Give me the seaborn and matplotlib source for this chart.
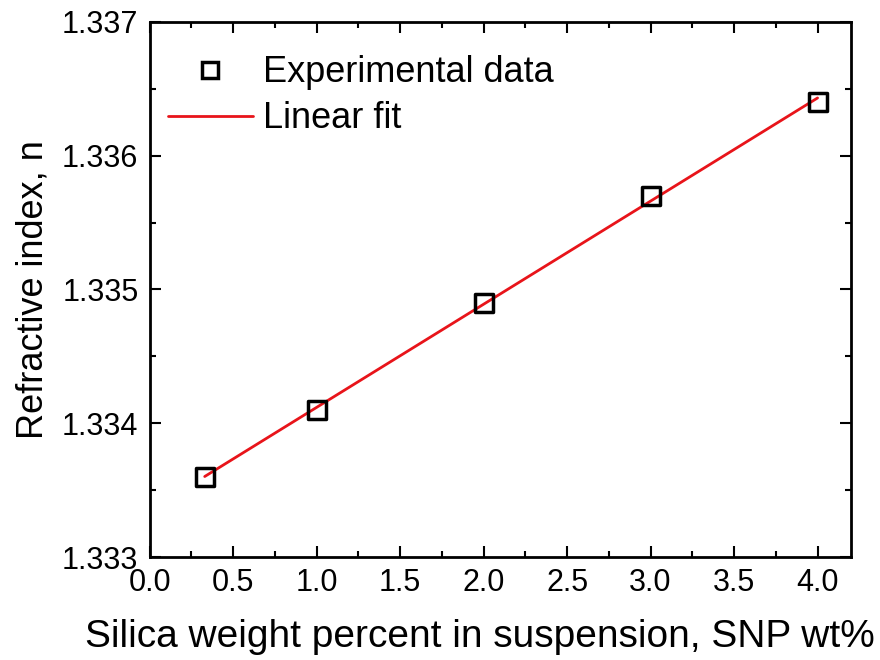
import matplotlib
matplotlib.use("Agg")
import matplotlib.pyplot as plt
import seaborn as sns
import pandas as pd
from matplotlib.ticker import MultipleLocator, FormatStrFormatter
from matplotlib.lines import Line2D

wt = [0.33, 1.0, 2.0, 3.0, 4.0]
n_vals = [1.3336, 1.3341, 1.3349, 1.3357, 1.3364]
df = pd.DataFrame({"wt": wt, "n": n_vals})

sns.set_style("ticks")
plt.rcParams["font.family"] = ["Liberation Sans", "DejaVu Sans"]
plt.rcParams["text.color"] = "black"
plt.rcParams["axes.labelcolor"] = "black"

fig = plt.figure(figsize=(8.8, 6.6), dpi=100)
ax = fig.add_axes([0.170, 0.156, 0.797, 0.811])

sns.regplot(data=df, x="wt", y="n", ax=ax, scatter=False, ci=None,
            line_kws=dict(color="#e8141a", lw=2))
sns.scatterplot(data=df, x="wt", y="n", ax=ax, marker="s", s=170,
                facecolor="none", edgecolor="black", linewidth=2.5, zorder=3)

ax.set_xlim(0, 4.2)
ax.set_ylim(1.333, 1.337)
ax.xaxis.set_major_locator(MultipleLocator(0.5))
ax.xaxis.set_minor_locator(MultipleLocator(0.25))
ax.yaxis.set_major_locator(MultipleLocator(0.001))
ax.yaxis.set_minor_locator(MultipleLocator(0.0005))
ax.xaxis.set_major_formatter(FormatStrFormatter("%.1f"))
ax.yaxis.set_major_formatter(FormatStrFormatter("%.3f"))
ax.tick_params(which="both", direction="in", top=True, right=True, width=1.5,
               labelsize=22, colors="black")
ax.tick_params(which="major", length=8, pad=8)
ax.tick_params(which="minor", length=4)
for s in ax.spines.values():
    s.set_linewidth(2)
    s.set_color("black")

ax.set_xlabel("Silica weight percent in suspension, SNP wt%", fontsize=28)
ax.xaxis.set_label_coords(0.471, -0.115)
ax.set_ylabel("Refractive index, n", fontsize=26)
ax.yaxis.set_label_coords(-0.142, 0.5)

handles = [Line2D([], [], marker="s", ls="none", markersize=12, markerfacecolor="none",
                  markeredgecolor="black", markeredgewidth=2.5),
           Line2D([], [], color="#e8141a", lw=2)]
ax.legend(handles, ["Experimental data", "Linear fit"], loc="upper left",
          bbox_to_anchor=(0.0, 0.971),
          frameon=False, fontsize=26, handlelength=2.35, handletextpad=0.28,
          borderaxespad=0.3, borderpad=0.2, labelspacing=0.3)

fig.savefig("out.png", dpi=100)
